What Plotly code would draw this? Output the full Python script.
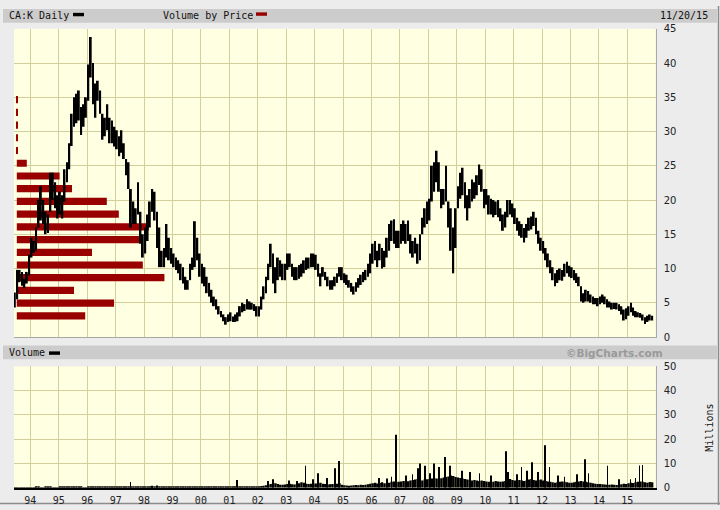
import pandas as pd
import plotly.graph_objects as go

W, H = 720, 510

symbol = "CA:K"
as_of = "11/20/15"

# monthly high / low, Jun 1993 .. Nov 2015
first_month = "1993-06-01"
price_high = [
    6.5, 9.8, 9.8, 9.5, 8.5, 9.5, 12.0,                                # 1993 (Jun-Dec)
    14.5, 14.0, 16.0, 20.0, 22.0, 20.0, 18.3, 17.9, 24.0, 24.0, 22.6, 20.7,  # 1994
    21.2, 20.7, 24.5, 25.5, 28.3, 32.6, 35.0, 35.5, 36.0, 33.6, 34.0, 35.0,  # 1995
    39.8, 43.8, 40.0, 37.0, 37.4, 36.0, 32.6, 32.0, 34.0, 32.0, 31.6, 30.7,  # 1996
    30.2, 29.3, 30.2, 28.3, 26.0, 25.5, 21.6, 19.8, 18.8, 22.6, 18.3, 15.0,  # 1997
    16.0, 17.9, 19.8, 21.6, 21.2, 18.3, 16.0, 12.6, 13.0, 16.5, 14.5, 13.0,  # 1998
    12.2, 11.6, 11.2, 10.7, 10.2, 8.8, 8.3, 10.7, 11.6, 16.9, 14.5, 12.2,    # 1999
    10.7, 10.2, 8.8, 7.9, 6.9, 5.9, 5.5, 4.5, 3.8, 3.3, 2.9, 3.3,            # 2000
    3.6, 3.0, 3.3, 3.6, 4.5, 5.0, 4.8, 5.5, 5.2, 5.0, 4.8, 4.5,              # 2001
    4.5, 5.9, 7.4, 8.8, 10.7, 13.6, 12.2, 10.2, 11.6, 11.2, 10.7, 10.7,      # 2002
    12.2, 12.2, 10.7, 10.2, 10.2, 10.5, 10.7, 11.2, 11.6, 11.6, 12.2, 12.2,  # 2003
    12.0, 10.7, 9.3, 10.2, 9.5, 8.8, 8.3, 8.3, 8.8, 9.3, 10.2, 10.2,         # 2004
    9.3, 9.1, 8.3, 7.9, 7.4, 8.0, 8.6, 9.1, 9.5, 9.8, 10.7, 12.2,            # 2005
    13.6, 14.0, 12.6, 13.6, 13.0, 12.6, 14.5, 16.5, 17.0, 17.2, 15.5, 15.5,  # 2006
    16.5, 17.0, 16.5, 17.0, 15.0, 14.0, 14.5, 13.6, 15.0, 17.4, 18.8, 19.8,  # 2007
    20.2, 25.0, 25.5, 27.2, 25.5, 21.6, 21.6, 25.0, 19.8, 18.8, 16.0, 18.8,  # 2008
    22.0, 24.0, 24.7, 22.6, 20.7, 21.6, 23.0, 22.6, 23.6, 25.2, 24.5, 21.6,  # 2009
    21.6, 20.7, 20.2, 20.0, 19.8, 20.0, 18.8, 17.9, 18.3, 20.0, 20.0, 19.5,  # 2010
    18.8, 17.4, 16.9, 16.5, 15.9, 16.5, 17.4, 17.6, 18.3, 17.4, 15.5, 14.5,  # 2011
    14.0, 13.0, 12.2, 11.2, 10.2, 9.3, 9.8, 10.0, 9.8, 10.7, 11.0, 10.4,     # 2012
    10.2, 9.8, 9.3, 8.8, 7.4, 6.4, 6.9, 6.7, 6.2, 5.9, 5.7, 5.7,             # 2013
    5.9, 6.2, 5.9, 5.5, 5.2, 5.0, 5.0, 5.0, 4.8, 4.5, 4.0, 4.2,              # 2014
    4.5, 5.0, 4.3, 3.8, 3.6, 3.5, 3.3, 2.9, 3.1, 3.3, 3.1,                   # 2015 (Jan-Nov)
]
price_low = [
    4.3, 5.5, 8.0, 7.5, 7.2, 7.8, 9.0,
    11.6, 12.3, 12.6, 16.0, 17.0, 16.5, 15.0, 15.2, 18.3, 20.0, 18.8, 17.3,
    17.9, 17.3, 19.8, 22.6, 24.5, 27.9, 30.7, 31.2, 31.6, 29.5, 30.7, 32.0,
    34.5, 37.9, 34.0, 32.0, 34.5, 32.6, 28.8, 29.3, 30.2, 28.3, 28.3, 27.8,
    27.4, 26.4, 26.9, 26.0, 23.6, 21.6, 16.0, 16.5, 16.5, 17.9, 13.6, 11.6,
    12.2, 14.0, 16.0, 18.3, 17.0, 13.0, 10.2, 10.2, 10.2, 11.6, 11.2, 10.7,
    10.2, 9.8, 9.3, 8.3, 7.8, 6.9, 6.9, 8.3, 9.8, 10.2, 11.2, 8.8,
    7.8, 7.4, 6.4, 5.9, 5.0, 4.5, 4.0, 3.3, 2.9, 2.3, 1.8, 2.2,
    2.3, 2.2, 2.2, 2.3, 3.0, 3.6, 3.8, 4.0, 4.0, 4.0, 3.8, 3.0,
    3.0, 4.0, 5.5, 6.4, 8.3, 10.2, 7.8, 6.4, 8.3, 8.8, 8.3, 8.3,
    9.8, 10.2, 8.8, 8.3, 8.3, 8.5, 8.8, 9.3, 9.8, 10.0, 10.2, 10.2,
    9.8, 8.8, 7.4, 8.8, 8.3, 7.4, 6.9, 6.9, 7.4, 7.9, 8.8, 8.3,
    7.9, 7.6, 7.2, 6.6, 6.2, 6.6, 7.2, 7.6, 8.0, 8.3, 8.8, 9.3,
    10.7, 11.2, 10.2, 11.2, 10.0, 10.2, 11.6, 12.6, 14.0, 13.6, 13.0, 13.0,
    13.6, 14.0, 13.6, 14.0, 12.2, 11.6, 12.2, 10.7, 11.2, 15.0, 16.0, 16.5,
    17.0, 19.8, 21.2, 22.6, 21.2, 18.8, 19.3, 19.8, 16.0, 12.6, 9.3, 13.0,
    18.8, 20.2, 20.7, 18.8, 17.0, 18.8, 19.8, 20.2, 20.7, 22.2, 21.2, 18.8,
    19.3, 17.9, 17.9, 17.5, 17.8, 17.5, 16.9, 15.5, 16.0, 17.5, 17.9, 17.5,
    16.5, 15.5, 14.8, 14.5, 13.8, 14.5, 15.5, 15.7, 16.2, 15.0, 13.6, 12.6,
    12.2, 11.2, 10.2, 9.3, 8.3, 7.4, 7.9, 8.3, 8.2, 8.8, 9.3, 8.8,
    8.6, 8.3, 7.9, 7.4, 5.2, 5.0, 5.2, 5.2, 5.0, 4.8, 4.8, 4.5,
    4.8, 5.0, 4.8, 4.3, 4.3, 4.0, 4.1, 4.0, 3.8, 3.3, 2.4, 2.6,
    3.1, 3.6, 3.1, 2.9, 2.9, 2.8, 2.4, 1.9, 2.2, 2.4, 2.4,
]

# typical daily volume per month, millions
volume_month = [
    0.1, 0.1, 0.1, 0.1, 0.1, 0.1, 0.1,
    0.1, 0.1, 0.2, 0.2, 0.1, 0.1, 0.2, 0.3, 0.2, 0.1, 0.1, 0.1,
    0.2, 0.2, 0.3, 0.2, 0.2, 0.2, 0.3, 0.2, 0.2, 0.2, 0.1, 0.1,
    0.2, 0.3, 0.2, 0.2, 0.2, 0.3, 0.2, 0.2, 0.2, 0.2, 0.2, 0.2,
    0.2, 0.2, 0.3, 0.3, 0.3, 0.4, 0.6, 0.4, 0.3, 0.4, 0.3, 0.3,
    0.3, 0.3, 0.4, 0.5, 0.4, 0.5, 0.4, 0.4, 0.5, 0.4, 0.3, 0.3,
    0.2, 0.2, 0.2, 0.2, 0.2, 0.2, 0.2, 0.2, 0.2, 0.3, 0.2, 0.2,
    0.2, 0.2, 0.2, 0.2, 0.2, 0.2, 0.2, 0.2, 0.2, 0.2, 0.3, 0.3,
    0.2, 0.2, 0.3, 0.2, 0.3, 0.3, 0.4, 0.3, 0.5, 0.4, 0.4, 0.5,
    0.6, 0.7, 0.8, 1.0, 1.2, 1.5, 2.0, 1.8, 1.5, 1.2, 1.2, 1.3,
    1.5, 1.6, 1.4, 1.3, 1.4, 1.8, 2.2, 2.0, 1.6, 1.5, 1.6, 1.7,
    1.7, 1.8, 2.0, 1.6, 1.5, 1.3, 1.4, 1.5, 1.4, 1.6, 1.8, 1.2,
    1.0, 0.9, 0.8, 0.9, 1.0, 1.1, 1.0, 1.2, 1.1, 1.2, 1.4, 1.6,
    1.8, 2.0, 1.7, 1.9, 2.2, 1.8, 1.7, 2.0, 2.4, 2.6, 2.3, 2.4,
    2.6, 2.8, 2.5, 2.7, 3.0, 3.2, 3.4, 3.6, 3.2, 3.0, 3.4, 3.5,
    3.6, 3.8, 4.0, 3.8, 3.6, 3.9, 4.2, 4.4, 4.6, 5.0, 4.8, 4.4,
    4.2, 4.0, 3.8, 3.6, 3.4, 3.2, 3.0, 3.2, 3.0, 2.8, 3.0, 2.8,
    2.6, 2.4, 2.2, 2.4, 2.8, 2.6, 2.4, 2.6, 2.8, 3.0, 3.6, 3.2,
    3.0, 2.8, 3.2, 3.0, 2.8, 3.0, 3.4, 3.6, 3.2, 3.0, 3.2, 3.4,
    3.0, 2.8, 2.6, 2.4, 2.2, 2.0, 2.2, 2.4, 2.6, 2.4, 2.2, 2.0,
    2.0, 2.2, 2.4, 2.6, 2.8, 2.6, 2.4, 2.2, 2.0, 1.8, 1.6, 1.5,
    1.5, 1.4, 1.3, 1.2, 1.2, 1.3, 1.2, 1.1, 1.2, 1.4, 1.6, 1.5,
    1.8, 2.0, 1.9, 2.2, 2.4, 2.6, 2.4, 2.2, 2.0, 2.3, 2.2,
]

# single heavy days that stick out of the volume band
spike_dates = [
    "1997-07-10", "1998-04-15", "1998-06-20", "2001-04-12", "2002-05-15", "2002-07-18",
    "2003-02-10", "2003-05-20", "2003-09-05", "2003-12-10", "2004-02-15", "2004-06-10",
    "2004-09-15", "2004-11-10", "2006-04-12", "2006-07-20", "2006-09-15", "2006-11-10",
    "2007-03-15", "2007-06-12", "2007-08-16", "2007-09-20", "2007-11-15", "2008-01-22",
    "2008-03-18", "2008-05-20", "2008-08-05", "2008-10-10", "2009-03-10", "2009-06-15",
    "2009-10-20", "2010-03-15", "2010-09-20", "2010-10-25", "2011-02-15", "2011-04-12",
    "2011-06-20", "2011-08-25", "2011-11-15", "2012-02-10", "2012-04-05", "2012-07-20",
    "2012-10-15", "2013-03-20", "2013-07-05", "2013-08-20", "2014-04-20", "2014-09-15",
    "2015-02-10", "2015-04-15", "2015-06-05", "2015-07-15",
]
spike_volume = [
    2.3, 0.8, 0.9, 3.2, 2.8, 3.5,
    3.0, 2.8, 9.0, 3.5, 6.0, 4.0,
    8.0, 11.0, 4.0, 3.8, 4.5, 21.8,
    5.0, 5.5, 8.0, 10.0, 9.0, 6.0,
    10.0, 8.5, 12.6, 9.0, 7.0, 6.5,
    6.0, 5.0, 15.0, 6.5, 5.5, 8.5,
    7.0, 10.5, 6.5, 17.5, 8.5, 5.0,
    4.5, 5.5, 11.7, 6.0, 9.0, 3.5,
    3.5, 4.0, 9.1, 9.4,
]

# volume by price (bin centre, millions traded in the bin)
vbp_price = [3.09, 4.94, 6.80, 8.66, 10.51, 12.37, 14.23, 16.09, 17.94,
             19.80, 21.66, 23.51, 25.37, 27.23, 29.09, 30.94, 32.80, 34.66]
vbp_volume = [17.1, 24.3, 14.3, 36.9, 31.5, 18.8, 30.7, 33.0, 25.5,
              22.5, 13.8, 10.7, 2.5, 0.25, 0.25, 0.25, 0.25, 0.25]

years = list(range(1994, 2016))
year_labels = [f"{y % 100:02d}" for y in years]

assert len(price_high) == len(price_low) == len(volume_month)

months = pd.date_range(first_month, periods=len(price_high), freq="MS") + pd.Timedelta(days=15)
span = [hi - lo for hi, lo in zip(price_high, price_low)]
year_ticks = [f"{y}-01-01" for y in years]
x_range = ["1993-06-05", "2015-12-31"]

DAY = 86400000
GRID = "#d3cf9c"
PLOT_BG = "#ffffe2"
RED = "#990000"


def px(x):
    return x / W


def py(y):
    return 1 - y / H


fig = go.Figure()

# volume by price, drawn first so the price bars sit on top
fig.add_trace(go.Bar(
    x=vbp_volume, y=vbp_price, orientation="h", width=1.05,
    marker=dict(color=RED, line=dict(width=0)),
    xaxis="x", yaxis="y", hoverinfo="skip",
))

# price, one bar per month from low to high
fig.add_trace(go.Bar(
    x=months, y=span, base=price_low, width=24 * DAY,
    marker=dict(color="black", line=dict(width=0)),
    xaxis="x3", yaxis="y",
))

# volume band and the odd heavy days
fig.add_trace(go.Bar(
    x=months, y=volume_month, width=30 * DAY,
    marker=dict(color="black", line=dict(width=0)),
    xaxis="x2", yaxis="y2",
))
fig.add_trace(go.Bar(
    x=pd.to_datetime(spike_dates), y=spike_volume, width=11 * DAY,
    marker=dict(color="black", line=dict(width=0)),
    xaxis="x2", yaxis="y2",
))

xdom = [px(14), px(655.7)]
tickfont_r = dict(family="DejaVu Sans", size=10, color="#222222")

fig.update_layout(
    width=W, height=H,
    margin=dict(l=0, r=0, t=0, b=0),
    paper_bgcolor="#ececec",
    plot_bgcolor=PLOT_BG,
    showlegend=False,
    barmode="overlay",
    xaxis=dict(domain=xdom, range=[-0.7, 159.7], visible=False, anchor="y", fixedrange=True),
    xaxis3=dict(
        type="date", overlaying="x", anchor="y", range=x_range,
        tickvals=year_ticks, showticklabels=False, ticks="",
        showgrid=True, gridcolor=GRID, gridwidth=1,
        showline=True, linecolor="#a9a9a0", linewidth=1,
    ),
    yaxis=dict(
        domain=[py(338.3), py(23.3)], range=[0, 45], side="right", anchor="x",
        tickvals=list(range(0, 46, 5)), ticks="", ticklabelstandoff=5,
        showgrid=True, gridcolor=GRID, gridwidth=1, zeroline=False,
        showline=True, linecolor="#a9a9a9", linewidth=1,
        tickfont=tickfont_r,
    ),
    xaxis2=dict(
        type="date", domain=xdom, anchor="y2", range=x_range,
        tickvals=year_ticks, ticktext=year_labels, ticks="", ticklabelstandoff=2,
        showgrid=True, gridcolor=GRID, gridwidth=1,
        showline=True, linecolor="black", linewidth=2,
        tickfont=dict(family="DejaVu Sans Mono", size=10, color="#222222"),
    ),
    yaxis2=dict(
        domain=[py(492.3), py(368.3)], range=[0, 50], side="right", anchor="x2",
        tickvals=list(range(0, 51, 10)), ticks="", ticklabelstandoff=5,
        showgrid=True, gridcolor=GRID, gridwidth=1, zeroline=False,
        showline=True, linecolor="#a9a9a9", linewidth=1,
        tickfont=tickfont_r,
    ),
)

# header strips, swatches and outer frame
shapes = [
    dict(type="rect", x0=px(3), x1=px(717), y0=py(17), y1=py(3), fillcolor="#cccccc"),
    dict(type="rect", x0=px(3), x1=px(717), y0=py(361), y1=py(347), fillcolor="#cccccc"),
    dict(type="rect", x0=px(73), x1=px(84), y0=py(10.5), y1=py(7), fillcolor="black"),
    dict(type="rect", x0=px(256), x1=px(267), y0=py(10), y1=py(6.5), fillcolor=RED),
    dict(type="rect", x0=px(49), x1=px(60), y0=py(356.5), y1=py(353), fillcolor="black"),
    dict(type="line", x0=px(718.5), x1=px(718.5), y0=0, y1=1, line=dict(color="#8c8c8c", width=1.5)),
    dict(type="line", x0=0, x1=1, y0=py(508.5), y1=py(508.5), line=dict(color="#8c8c8c", width=1.5)),
]
for s in shapes:
    s.update(xref="paper", yref="paper", layer="below")
    s.setdefault("line", dict(width=0))
fig.update_layout(shapes=shapes)

mono = dict(family="DejaVu Sans Mono", size=10, color="#111111")
notes = [
    dict(x=px(7), y=py(9.5), text=f"{symbol} Daily", font=mono),
    dict(x=px(161), y=py(9.5), text="Volume by Price", font=mono),
    dict(x=px(658), y=py(9.5), text=as_of, font=mono),
    dict(x=px(7), y=py(354.5), text="Volume", font=mono),
    dict(x=px(564), y=py(354.5), text="©BigCharts.com",
         font=dict(family="DejaVu Sans", size=10.5, color="#9a9a9a", weight="bold")),
]
for n in notes:
    fig.add_annotation(xref="paper", yref="paper", xanchor="left", yanchor="middle",
                       showarrow=False, **n)
fig.add_annotation(xref="paper", yref="paper", x=px(709.5), y=py(431.5), text="Millions",
                   textangle=-90, showarrow=False, font=mono,
                   xanchor="center", yanchor="middle")

# the page gets the browser's default 8px body margin otherwise
fig.write_html("out.html", config={"displayModeBar": False},
               post_script="document.body.style.margin='0';")
